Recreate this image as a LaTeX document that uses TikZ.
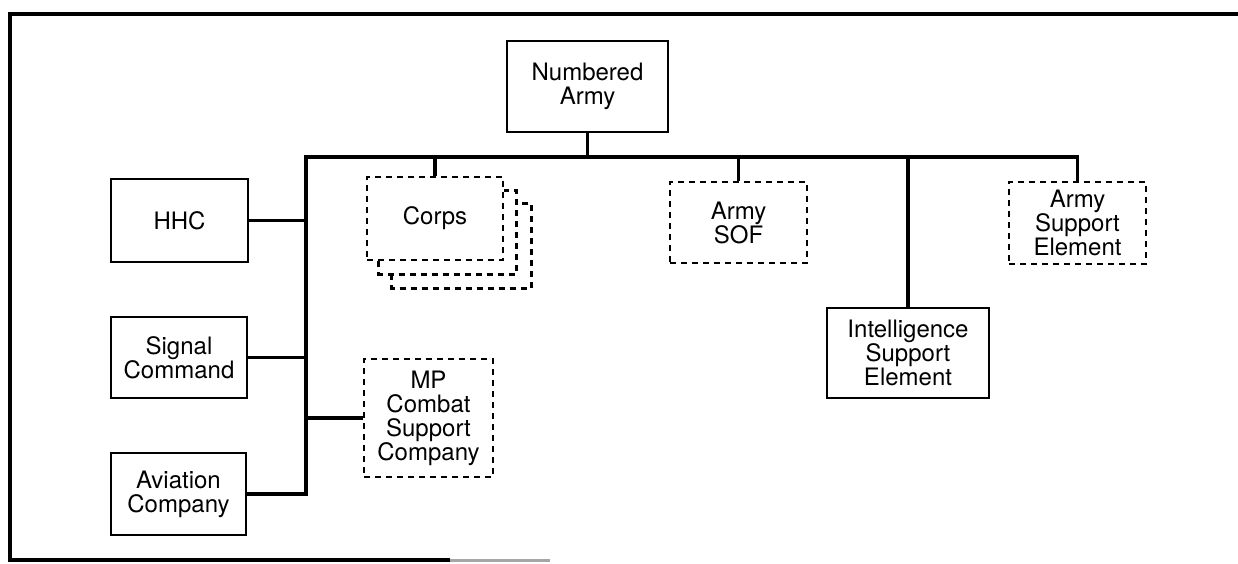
\documentclass[tikz,border=0pt]{standalone}
\usepackage{fontspec}
\setmainfont{TeX Gyre Heros}
\usetikzlibrary{calc}
\begin{document}
\begin{tikzpicture}[x=1pt,y=-1pt,
  box/.style={draw, line width=2.6pt, align=center, inner sep=0pt,
    font=\fontsize{24}{24}\selectfont},
  dbox/.style={box, line width=2.8pt, dash pattern=on 6pt off 5pt},
  shadowline/.style={line width=2.8pt, dash pattern=on 6pt off 5pt},
  link/.style={line width=3.5pt, line join=miter},
  framerule/.style={line width=4.5pt}]
\useasboundingbox (0,0) rectangle (1238,563);
% frame
\draw[framerule] (1238,14) -- (10,14) -- (10,560) -- (450,560);
\draw[line width=3pt, black!35] (450,560) -- (550,560);
% nodes
\node[box, minimum width=161pt, minimum height=91pt] (na) at (587.5,86.5) {Numbered\\Army};
\node[box, minimum width=137pt, minimum height=83pt] (hhc) at (179.5,220.5) {HHC};
\node[box, minimum width=136pt, minimum height=81pt] (sig) at (179,357.5) {Signal\\Command};
\node[box, minimum width=135pt, minimum height=82pt] (av) at (178.5,494) {Aviation\\Company};
\node[dbox, minimum width=136pt, minimum height=83pt] (corps) at (435,218.5) {Corps};
\node[dbox, minimum width=137pt, minimum height=81pt] (sof) at (738.5,222.5) {Army\\SOF};
\node[dbox, minimum width=137pt, minimum height=82pt] (ase) at (1077.5,223) {Army\\Support\\Element};
\node[box, minimum width=162pt, minimum height=90pt] (ise) at (908,353) {Intelligence\\Support\\Element};
\node[dbox, minimum width=129pt, minimum height=118pt] (mp) at (428.5,418) {MP\\Combat\\Support\\Company};
% stacked corps outlines
\draw[shadowline] ($(corps.south west)+(13,0)$) -- ($(corps.south west)+(13,13)$)
  -- ($(corps.south east)+(12,13)$) -- ($(corps.north east)+(12,15)$) -- ($(corps.north east)+(0,15)$);
\draw[shadowline] ($(corps.south west)+(26,13)$) -- ($(corps.south west)+(26,27)$)
  -- ($(corps.south east)+(27,27)$) -- ($(corps.north east)+(27,28)$) -- ($(corps.north east)+(12,28)$);
% connectors
\coordinate (busL) at (306,157);
\draw[link] (na.south) -- (na.south |- busL);
\draw[link] (av.east) -| (busL) -| (ase.north);
\draw[link] (hhc.east) -- (hhc.east -| busL);
\draw[link] (sig.east) -- (sig.east -| busL);
\draw[link] (mp.west -| busL) -- (mp.west);
\draw[link] (corps.north |- busL) -- (corps.north);
\draw[link] (sof.north |- busL) -- (sof.north);
\draw[link] (ise.north |- busL) -- (ise.north);
\end{tikzpicture}
\end{document}
